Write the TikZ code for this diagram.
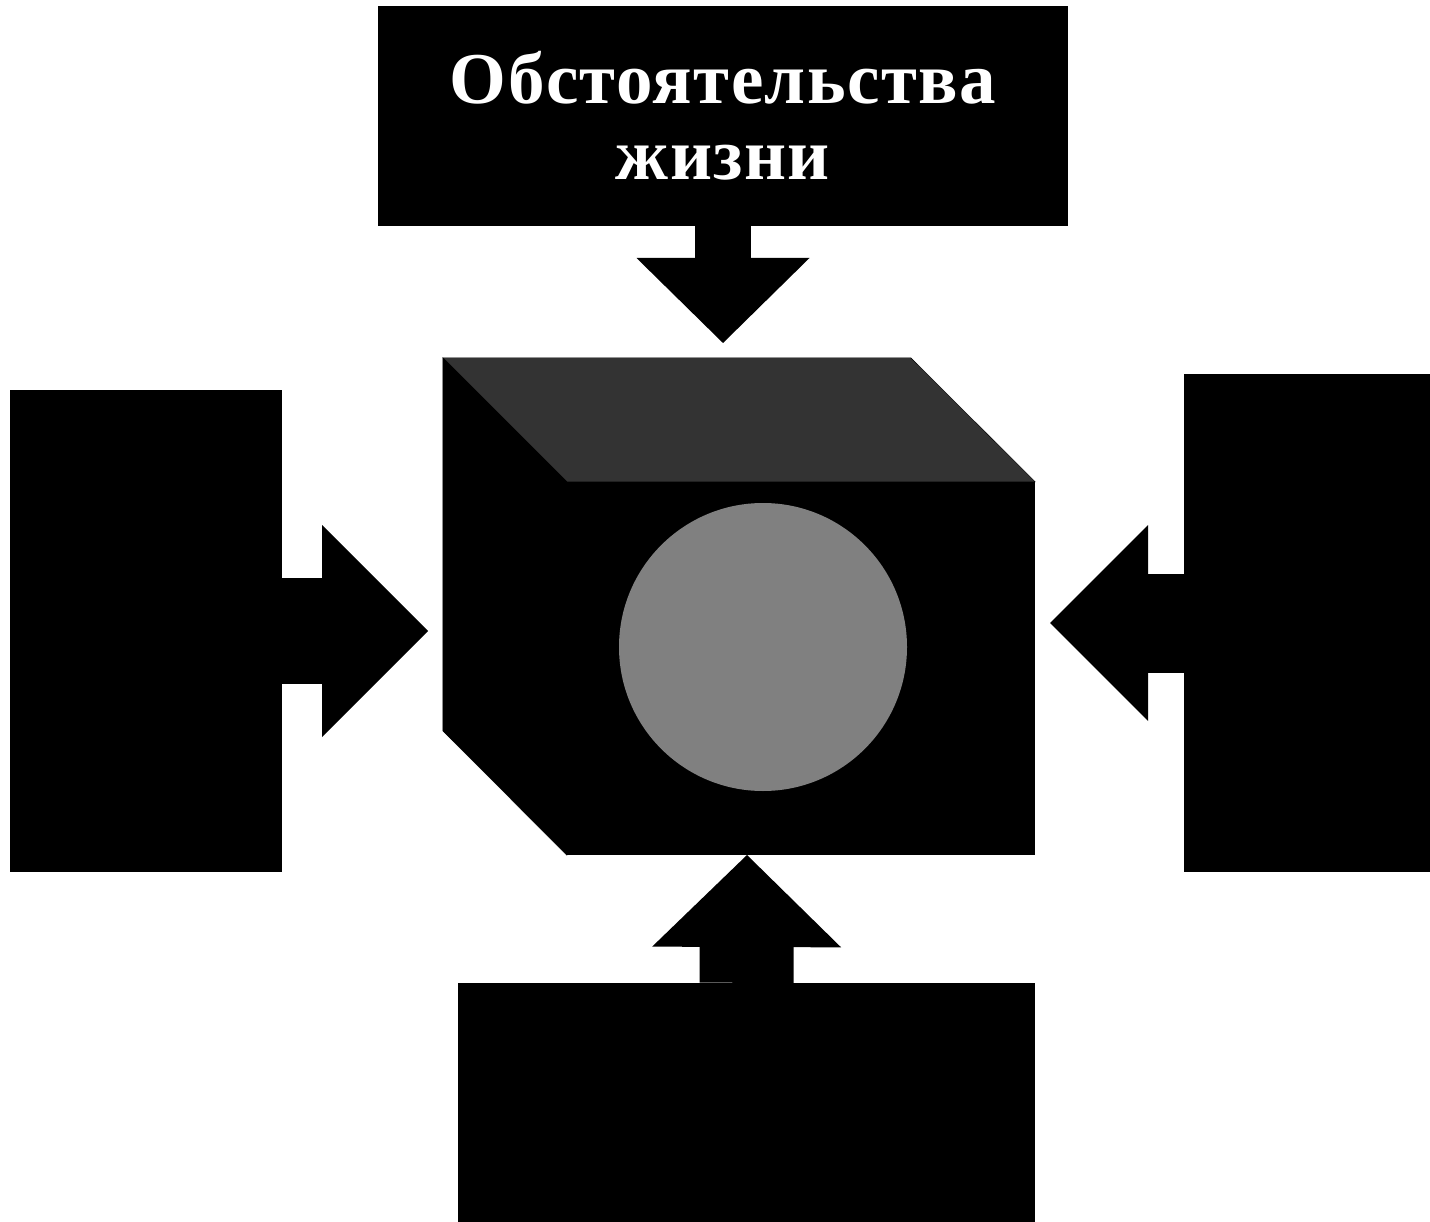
\documentclass[tikz,border=0pt]{standalone}
\usepackage{fontspec}
\setmainfont{Liberation Serif}
\usetikzlibrary{arrows.meta}
\begin{document}
\begin{tikzpicture}[x=1pt,y=-1pt,
	block/.style={fill=black,inner sep=0pt},
	fatarrow/.style n args={3}{line width=#1,-{Triangle[width=#2,length=#3,line width=0pt]}}]
	\useasboundingbox (0,0) rectangle (1430,1222);
	% the cube in the middle
	\node [block,minimum width=468pt,minimum height=373pt] (face) at (801,668.5) {};
	\filldraw [fill=black!80] (face.north west) -- ++(-124,-124) -- ++(468,0) -- (face.north east) -- cycle;
	\filldraw (face.north west) -- ++(-124,-124) -- ++(0,373) -- (face.south west) -- cycle;
	\node [circle,fill=gray,inner sep=0pt,minimum size=288pt] (core) at (763,647) {};
	% the four boxes
	\node [block,minimum width=690pt,minimum height=220pt,text=white,align=center,
		font=\bfseries\fontsize{73}{76}\selectfont\addfontfeature{LetterSpace=2}] (life) at (723,116) {Обстоятельства\\жизни};
	\node [block,minimum width=272pt,minimum height=482pt] (westbox) at (146,631) {};
	\node [block,minimum width=246pt,minimum height=498pt] (eastbox) at (1307,623) {};
	\node [block,minimum width=577pt,minimum height=239pt] (southbox) at (746.5,1102.5) {};
	% arrows into the cube
	\coordinate (topin) at (723,343);
	\coordinate (westin) at (428,631);
	\coordinate (eastin) at (1050,623);
	\coordinate (southin) at (747,855);
	\draw [fatarrow={56pt}{173pt}{85pt}] (life.south) -- (topin);
	\draw [fatarrow={106pt}{212pt}{106pt}] (westbox.east) -- (westin);
	\draw [fatarrow={99pt}{196pt}{98pt}] (eastbox.west) -- (eastin);
	\draw [fatarrow={94pt}{189pt}{92pt}] (southbox.north) -- (southin);
\end{tikzpicture}
\end{document}
